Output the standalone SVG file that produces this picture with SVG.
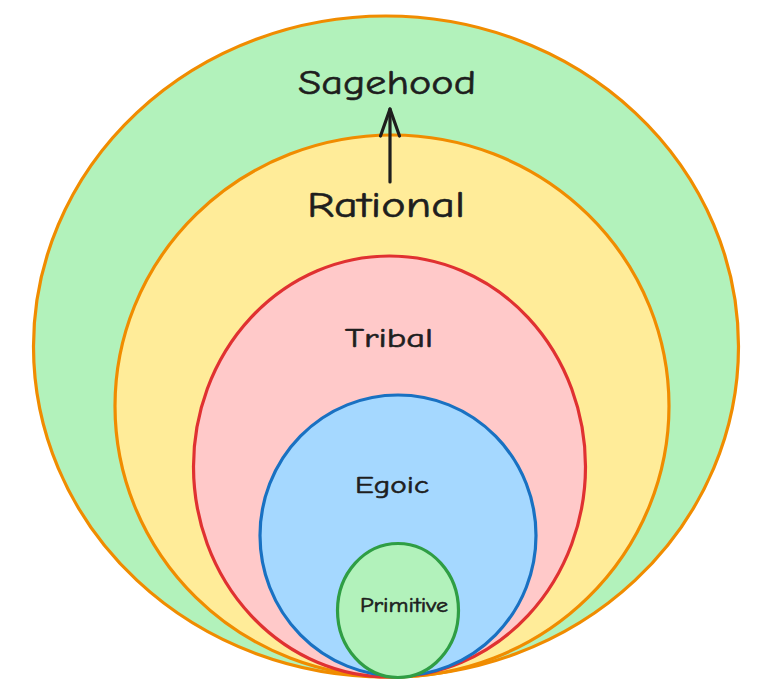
<svg xmlns="http://www.w3.org/2000/svg" width="776" height="698" viewBox="0 0 776 698">
<defs>
<style>
.lbl{font-family:"Comic Neue","Liberation Sans","DejaVu Sans",sans-serif;fill:#1e1e1e;text-anchor:middle;stroke:#1e1e1e;stroke-width:0.6}
.e{stroke-width:3.2}
</style>
<marker id="arr" viewBox="-30 -14 34 28" refX="0" refY="0" markerWidth="34" markerHeight="28" markerUnits="userSpaceOnUse" orient="auto">
<path d="M-27,-9.5 L0,0 L-27,9.5" fill="none" stroke="#1e1e1e" stroke-width="3.2" stroke-linecap="round" stroke-linejoin="round"/>
</marker>
</defs>
<rect width="776" height="698" fill="#ffffff"/>
<g id="sagehood">
<ellipse class="e" cx="386" cy="346.5" rx="352.5" ry="330.5" fill="#b2f2bb" stroke="#f08c00"/>
<text class="lbl" x="387" y="94" font-size="34" textLength="178" lengthAdjust="spacingAndGlyphs">Sagehood</text>
</g>
<g id="rational">
<ellipse class="e" cx="392" cy="406" rx="277" ry="271" fill="#ffec99" stroke="#f08c00"/>
<text class="lbl" x="386" y="217" font-size="36" textLength="158" lengthAdjust="spacingAndGlyphs">Rational</text>
</g>
<g id="tribal">
<ellipse class="e" cx="389.5" cy="466.5" rx="196" ry="210.5" fill="#ffc9c9" stroke="#e03131"/>
<text class="lbl" x="389" y="347" font-size="26" textLength="88" lengthAdjust="spacingAndGlyphs">Tribal</text>
</g>
<g id="egoic">
<ellipse class="e" cx="398" cy="535.5" rx="138" ry="140.5" fill="#a5d8ff" stroke="#1971c2"/>
<text class="lbl" x="392" y="493" font-size="25" textLength="74" lengthAdjust="spacingAndGlyphs">Egoic</text>
</g>
<g id="primitive">
<ellipse class="e" cx="398" cy="610.5" rx="60.5" ry="67" fill="#b2f2bb" stroke="#2f9e44"/>
<text class="lbl" x="404" y="612" font-size="20" textLength="88" lengthAdjust="spacingAndGlyphs">Primitive</text>
</g>
<g id="connectors">
<line x1="390" y1="182" x2="390" y2="109" stroke="#1e1e1e" stroke-width="3.2" stroke-linecap="round" marker-end="url(#arr)"/>
</g>
</svg>
